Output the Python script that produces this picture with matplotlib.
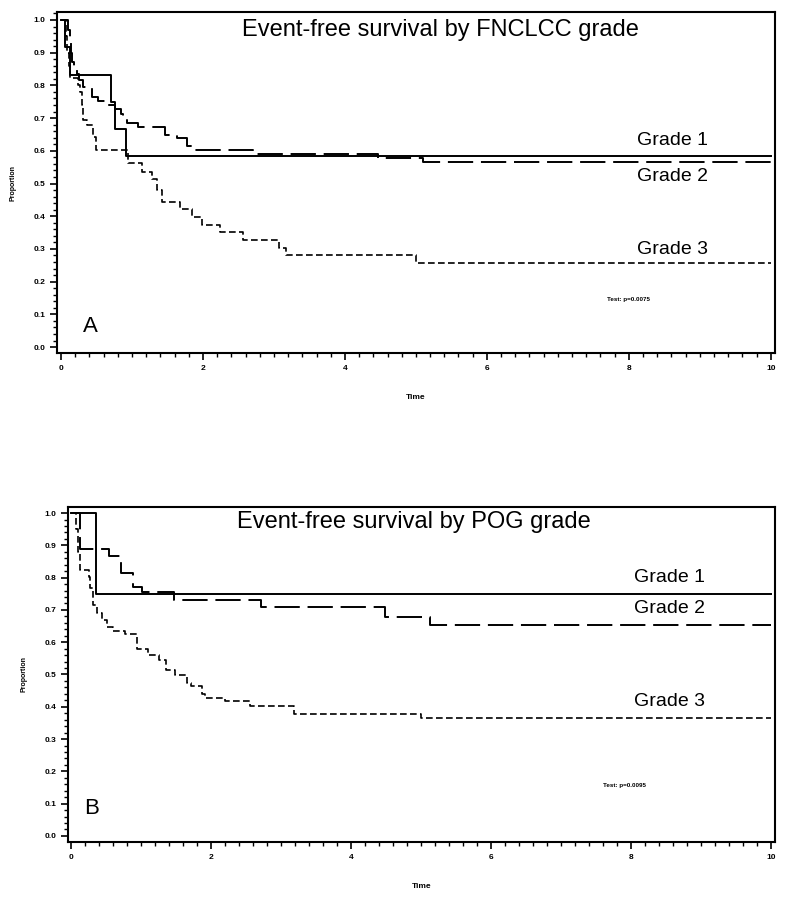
import numpy as np
import matplotlib
matplotlib.use("Agg")
import matplotlib.pyplot as plt
from matplotlib.ticker import MultipleLocator

plt.rcParams['font.family'] = ['Liberation Sans', 'DejaVu Sans']

# panel A: FNCLCC grade
a_g1_t = [0, 0.06, 0.12, 0.70, 0.76, 0.91, 10]
a_g1_s = [1.0, 0.917, 0.833, 0.75, 0.667, 0.583, 0.583]

a_g2_t = [0, 0.10, 0.12, 0.14, 0.16, 0.19, 0.22, 0.26, 0.31, 0.43, 0.52, 0.62,
          0.76, 0.845, 0.87, 0.925, 1.085, 1.465, 1.63, 1.78, 1.86, 2.70, 4.47, 5.10, 10]
a_g2_s = [1.0, 0.97, 0.93, 0.90, 0.87, 0.852, 0.835, 0.817, 0.796, 0.765, 0.753, 0.74,
          0.727, 0.714, 0.70, 0.684, 0.672, 0.648, 0.638, 0.616, 0.602, 0.59, 0.577, 0.565, 0.565]

a_g3_t = [0, 0.07, 0.09, 0.11, 0.13, 0.24, 0.27, 0.29, 0.31, 0.36, 0.455, 0.50, 0.95,
          1.14, 1.28, 1.35, 1.42, 1.68, 1.85, 1.99, 2.24, 2.57, 3.07, 3.17, 5.0, 10]
a_g3_s = [1.0, 0.95, 0.90, 0.86, 0.822, 0.80, 0.78, 0.74, 0.694, 0.679, 0.643, 0.602, 0.562,
          0.536, 0.514, 0.48, 0.444, 0.421, 0.398, 0.373, 0.351, 0.327, 0.302, 0.281, 0.258, 0.258]

# panel B: POG grade
b_g1_t = [0, 0.35, 10]
b_g1_s = [1.0, 0.75, 0.75]

b_g2_t = [0, 0.13, 0.54, 0.71, 0.89, 1.01, 1.47, 2.71, 4.49, 5.13, 10]
b_g2_s = [1.0, 0.889, 0.867, 0.816, 0.77, 0.755, 0.731, 0.708, 0.677, 0.653, 0.653]

b_g3_t = [0, 0.07, 0.10, 0.13, 0.25, 0.27, 0.31, 0.37, 0.44, 0.51, 0.60, 0.77, 0.94,
          1.10, 1.25, 1.35, 1.49, 1.65, 1.72, 1.87, 1.91, 2.2, 2.56, 3.18, 5.0, 10]
b_g3_s = [1.0, 0.95, 0.88, 0.824, 0.803, 0.768, 0.715, 0.69, 0.669, 0.648, 0.635, 0.625, 0.579,
          0.560, 0.545, 0.514, 0.498, 0.475, 0.464, 0.44, 0.426, 0.418, 0.402, 0.378, 0.365, 0.365]

grade_labels = ["Grade 1", "Grade 2", "Grade 3"]


def draw_panel(ax, curves, title, letter, ptext, title_xy, letter_xy, ptext_xy, label_ys, label_x, xlim, ylim):
    styles = [dict(ls='-', lw=1.4),
              dict(ls=(0, (13, 4)), lw=1.4),
              dict(ls=(0, (4, 2)), lw=1.2)]
    for (t, s), st in zip(curves, styles):
        ax.plot(t, s, drawstyle='steps-post', color='black', **st)
    ax.set_xlim(*xlim)
    ax.set_ylim(*ylim)
    ax.xaxis.set_major_locator(MultipleLocator(2))
    ax.xaxis.set_minor_locator(MultipleLocator(0.2))
    ax.yaxis.set_major_locator(MultipleLocator(0.1))
    ax.yaxis.set_minor_locator(MultipleLocator(0.02))
    ax.yaxis.set_major_formatter(plt.FormatStrFormatter('%.1f'))
    ax.tick_params(which='major', direction='out', length=5, width=1.2, labelsize=6)
    ax.tick_params(which='minor', direction='out', length=3, width=1)
    for lab in ax.get_xticklabels() + ax.get_yticklabels():
        lab.set_fontweight('bold')
    for sp in ax.spines.values():
        sp.set_linewidth(1.5)
    ax.set_xlabel("Time", fontsize=6, fontweight='bold', labelpad=16)
    ax.set_ylabel("Proportion", fontsize=5, fontweight='bold', labelpad=12)
    ax.text(title_xy[0], title_xy[1], title, fontsize=17, ha='center', va='center')
    ax.text(letter_xy[0], letter_xy[1], letter, fontsize=16, ha='center', va='center')
    ax.text(ptext_xy[0], ptext_xy[1], ptext, fontsize=4.5, fontweight='bold', ha='center', va='center')
    for lab, y in zip(grade_labels, label_ys):
        ax.text(label_x, y, lab, fontsize=14, ha='left', va='center')


fig = plt.figure(figsize=(7.92, 8.97), dpi=100)
ax1 = fig.add_axes([0.072, 0.6065, 0.9066, 0.380])
ax2 = fig.add_axes([0.0859, 0.0613, 0.8927, 0.3735])

draw_panel(ax1, [(a_g1_t, a_g1_s), (a_g2_t, a_g2_s), (a_g3_t, a_g3_s)],
           "Event-free survival by FNCLCC grade", "A", "Test: p=0.0075",
           (5.34, 0.969), (0.41, 0.064), (7.99, 0.144), [0.633, 0.52, 0.297], 8.11,
           (-0.056, 10.06), (-0.018, 1.024))
draw_panel(ax2, [(b_g1_t, b_g1_s), (b_g2_t, b_g2_s), (b_g3_t, b_g3_s)],
           "Event-free survival by POG grade", "B", "Test: p=0.0095",
           (4.9, 0.972), (0.3, 0.084), (7.91, 0.155), [0.80, 0.703, 0.415], 8.04,
           (-0.043, 10.06), (-0.019, 1.019))

fig.savefig("out.png", dpi=100)
